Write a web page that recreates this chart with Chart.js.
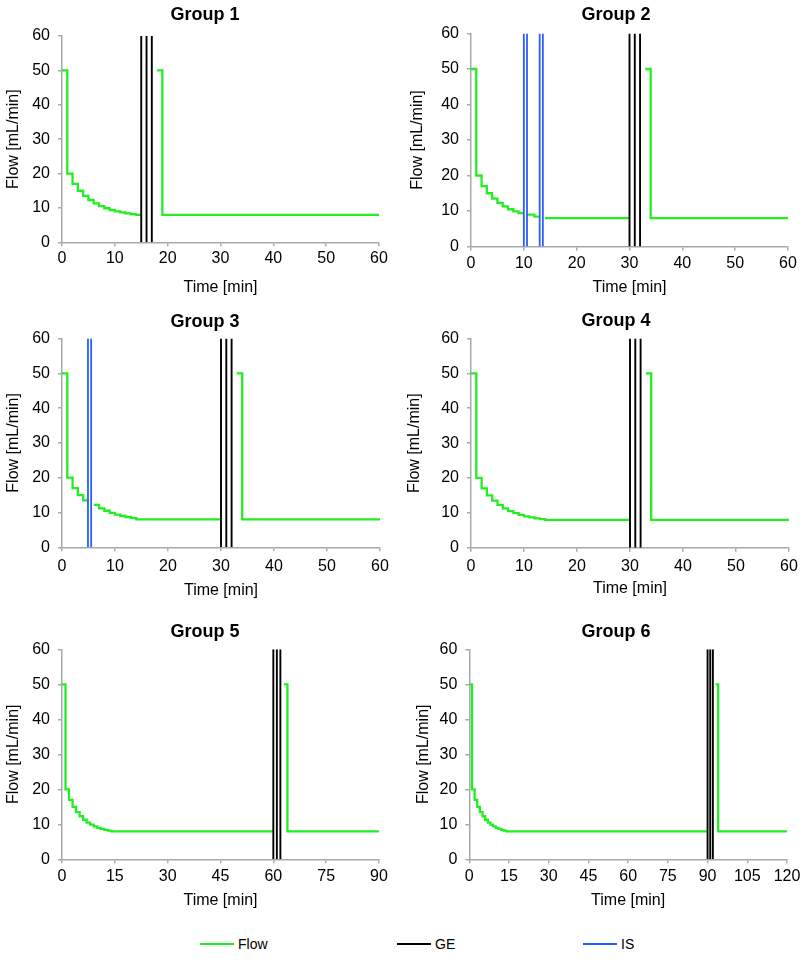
<!DOCTYPE html>
<html>
<head>
<meta charset="utf-8">
<script src="https://cdn.jsdelivr.net/npm/chart.js@4.4.1/dist/chart.umd.min.js"></script>
<style>
  html, body { margin:0; padding:0; background:#fff; }
  body { width:810px; height:966px; overflow:hidden; position:relative; font-family:"Liberation Sans", Arial, sans-serif; }
  canvas { position:absolute; display:block; }
  .lg { position:absolute; top:934px; height:20px; line-height:20px; font-size:14px; color:#000; }
  .sw { position:absolute; top:9px; left:0; width:34px; height:2px; }
  .lt { position:absolute; left:38px; top:0; white-space:nowrap; }
</style>
</head>
<body>
<canvas id="c1"></canvas>
<canvas id="c2"></canvas>
<canvas id="c3"></canvas>
<canvas id="c4"></canvas>
<canvas id="c5"></canvas>
<canvas id="c6"></canvas>

<div class="lg" style="left:200px"><div class="sw" style="background:#22ee22"></div><div class="lt">Flow</div></div>
<div class="lg" style="left:397px"><div class="sw" style="background:#000"></div><div class="lt">GE</div></div>
<div class="lg" style="left:583px"><div class="sw" style="background:#2b5cff"></div><div class="lt">IS</div></div>

<script>
// ---------- data ----------
const Y_TICKS = [0, 10, 20, 30, 40, 50, 60];
const X_TICKS_60 = [0, 10, 20, 30, 40, 50, 60];
const X_TICKS_90 = [0, 15, 30, 45, 60, 75, 90];
const X_TICKS_120 = [0, 15, 30, 45, 60, 75, 90, 105, 120];

const TITLES = ["Group 1", "Group 2", "Group 3", "Group 4", "Group 5", "Group 6"];
const X_LABEL = "Time [min]";
const Y_LABEL = "Flow [mL/min]";

// Flow (stepped: value changes at each listed time; null = flow stopped)
const g1Time = [0, 1, 2, 3, 4, 5, 6, 7, 8, 9, 10, 11, 12, 13, 14, 15, 15, 18, 19, 60];
const g1Flow = [50, 20, 17, 15, 13.5, 12.3, 11.3, 10.5, 9.9, 9.4, 9.0, 8.7, 8.4, 8.2, 8.0, 8.0, null, 50, 8, 8];
const g1GE = [15, 16, 17];
const g1IS = [];

const g2Time = [0, 1, 2, 3, 4, 5, 6, 7, 8, 9, 10, 10, 10.6, 12, 13, 13, 14, 30, 30, 33, 34, 60];
const g2Flow = [50, 20, 17, 15, 13.5, 12.3, 11.3, 10.5, 9.9, 9.4, 9.4, null, 9.0, 8.4, 8.4, null, 8, 8, null, 50, 8, 8];
const g2GE = [30, 31, 32];
const g2IS = [10, 10.6, 13, 13.6];

const g3Time = [0, 1, 2, 3, 4, 5, 5, 6, 7, 8, 9, 10, 11, 12, 13, 14, 30, 30, 33, 34, 60];
const g3Flow = [50, 20, 17, 15, 13.5, 13.5, null, 12.2, 11.2, 10.5, 9.9, 9.4, 9.0, 8.7, 8.4, 8, 8, null, 50, 8, 8];
const g3GE = [30, 31, 32];
const g3IS = [4.9, 5.5];

const g4Time = [0, 1, 2, 3, 4, 5, 6, 7, 8, 9, 10, 11, 12, 13, 14, 30, 30, 33, 34, 60];
const g4Flow = [50, 20, 17, 15, 13.5, 12.3, 11.3, 10.5, 9.9, 9.4, 9.0, 8.7, 8.4, 8.2, 8, 8, null, 50, 8, 8];
const g4GE = [30, 31, 32];
const g4IS = [];

const g5Time = [0, 1, 2, 3, 4, 5, 6, 7, 8, 9, 10, 11, 12, 13, 14, 60, 60, 63, 64, 90];
const g5Flow = [50, 20, 17, 15, 13.5, 12.3, 11.3, 10.5, 9.9, 9.4, 9.0, 8.7, 8.4, 8.2, 8, 8, null, 50, 8, 8];
const g5GE = [60, 61, 62];
const g5IS = [];

const g6Time = [0, 1, 2, 3, 4, 5, 6, 7, 8, 9, 10, 11, 12, 13, 14, 90, 90, 93, 94, 120];
const g6Flow = [50, 20, 17, 15, 13.5, 12.3, 11.3, 10.5, 9.9, 9.4, 9.0, 8.7, 8.4, 8.2, 8, 8, null, 50, 8, 8];
const g6GE = [90, 91, 92];
const g6IS = [];

// ---------- styling / layout ----------
const FONT = "'Liberation Sans', Arial, sans-serif";
const AXIS = '#a3abab';
const GREEN = '#22ee22';
const BLUE = '#2b5cff';

const LAYOUTS = [
  {cx:0,   cy:0,   cw:410, ch:300, L:62,    R:379, T:36,    B:242.3, titleY:15.5,  yTitleX:14,  xTitleY:288,   tickY:258.3},
  {cx:405, cy:0,   cw:422, ch:300, L:471,   R:788, T:33.5,  B:246.5, titleY:15.5,  yTitleX:418, xTitleY:288,   tickY:263.3},
  {cx:0,   cy:300, cw:410, ch:305, L:62,    R:380, T:338.5, B:547.3, titleY:321.7, yTitleX:14,  xTitleY:591,   tickY:566.7},
  {cx:405, cy:300, cw:422, ch:305, L:471,   R:789, T:338.5, B:547.7, titleY:321,   yTitleX:414, xTitleY:588.6, tickY:566.3},
  {cx:0,   cy:610, cw:410, ch:305, L:62,    R:379, T:649.3, B:859.3, titleY:632.5, yTitleX:14,  xTitleY:901,   tickY:876.7},
  {cx:405, cy:610, cw:422, ch:305, L:469.3, R:787, T:649.3, B:859.3, titleY:632.5, yTitleX:424, xTitleY:901,   tickY:876.7}
];

const GROUPS = [
  {t:g1Time, v:g1Flow, ge:g1GE, is:g1IS, xt:X_TICKS_60},
  {t:g2Time, v:g2Flow, ge:g2GE, is:g2IS, xt:X_TICKS_60},
  {t:g3Time, v:g3Flow, ge:g3GE, is:g3IS, xt:X_TICKS_60},
  {t:g4Time, v:g4Flow, ge:g4GE, is:g4IS, xt:X_TICKS_60},
  {t:g5Time, v:g5Flow, ge:g5GE, is:g5IS, xt:X_TICKS_90},
  {t:g6Time, v:g6Flow, ge:g6GE, is:g6IS, xt:X_TICKS_120}
];

const Y_MIN = Y_TICKS[0], Y_MAX = Y_TICKS[Y_TICKS.length - 1];

function flowPoints(times, flows) {
  return times.map((t, i) => ({x: t, y: flows[i]}));
}
function vLines(times) {
  const pts = [];
  times.forEach(t => { pts.push({x: t, y: Y_MIN}, {x: t, y: Y_MAX}, {x: t, y: null}); });
  return pts;
}

function makeChart(idx) {
  const Lo = LAYOUTS[idx], G = GROUPS[idx];
  const canvas = document.getElementById('c' + (idx + 1));
  canvas.width = Lo.cw; canvas.height = Lo.ch;
  canvas.style.left = Lo.cx + 'px'; canvas.style.top = Lo.cy + 'px';
  canvas.style.width = Lo.cw + 'px'; canvas.style.height = Lo.ch + 'px';

  const TLH = 18 * 1.2, ALH = 16 * 1.2;
  const titleTop = Lo.titleY - Lo.cy - TLH / 2;
  const titleBottom = (Lo.T - Lo.cy) - TLH - titleTop;
  const yW = Lo.L - Lo.cx;
  const padR = Lo.cx + Lo.cw - Lo.R;
  const xH = Lo.cy + Lo.ch - Lo.B;
  const tickPad = Lo.tickY - Lo.B - 4 - ALH / 2;
  const xTitleBottom = Lo.cy + Lo.ch - Lo.xTitleY - ALH / 2;
  const yTitleTop = Math.max(0, Lo.yTitleX - Lo.cx - ALH / 2);
  const xMax = G.xt[G.xt.length - 1];

  new Chart(canvas, {
    type: 'line',
    data: {
      datasets: [
        {label: 'IS', data: vLines(G.is), borderColor: BLUE, borderWidth: 1.8, pointRadius: 0, spanGaps: false, order: 0},
        {label: 'GE', data: vLines(G.ge), borderColor: '#000000', borderWidth: 1.9, pointRadius: 0, spanGaps: false, order: 1},
        {label: 'Flow', data: flowPoints(G.t, G.v), borderColor: GREEN, borderWidth: 2.3, pointRadius: 0, stepped: 'before', spanGaps: false, order: 2}
      ]
    },
    options: {
      responsive: false,
      animation: false,
      devicePixelRatio: 1,
      layout: {padding: 0},
      events: [],
      plugins: {
        legend: {display: false},
        tooltip: {enabled: false},
        title: {
          display: true, text: TITLES[idx], color: '#000',
          font: {size: 18, weight: 'bold', family: FONT},
          padding: {top: titleTop, bottom: titleBottom}
        }
      },
      scales: {
        x: {
          type: 'linear', position: 'bottom', min: 0, max: xMax,
          afterBuildTicks: s => { s.ticks = G.xt.map(v => ({value: v})); },
          afterFit: s => { s.height = xH; },
          grid: {display: true, drawOnChartArea: false, drawTicks: true, tickLength: 4, color: AXIS, lineWidth: 1.5},
          border: {display: true, color: AXIS, width: 1.5},
          ticks: {color: '#000', font: {size: 16, family: FONT}, padding: tickPad, maxRotation: 0, autoSkip: false},
          title: {display: true, text: X_LABEL, color: '#000', font: {size: 16, family: FONT}, padding: {top: 0, bottom: xTitleBottom}}
        },
        y: {
          type: 'linear', position: 'left', min: Y_MIN, max: Y_MAX,
          afterBuildTicks: s => { s.ticks = Y_TICKS.map(v => ({value: v})); },
          afterFit: s => { s.width = yW; },
          grid: {display: true, drawOnChartArea: false, drawTicks: true, tickLength: 4, color: AXIS, lineWidth: 1.5},
          border: {display: true, color: AXIS, width: 1.5},
          ticks: {color: '#000', font: {size: 16, family: FONT}, padding: 8, autoSkip: false},
          title: {display: true, text: Y_LABEL, color: '#000', font: {size: 16, family: FONT}, padding: {top: yTitleTop, bottom: 0}}
        },
        pad: {
          type: 'linear', position: 'right', display: true,
          grid: {display: false}, border: {display: false}, ticks: {display: false},
          afterFit: s => { s.width = padR; }
        }
      }
    }
  });
}

for (let i = 0; i < 6; i++) makeChart(i);
</script>
</body>
</html>
